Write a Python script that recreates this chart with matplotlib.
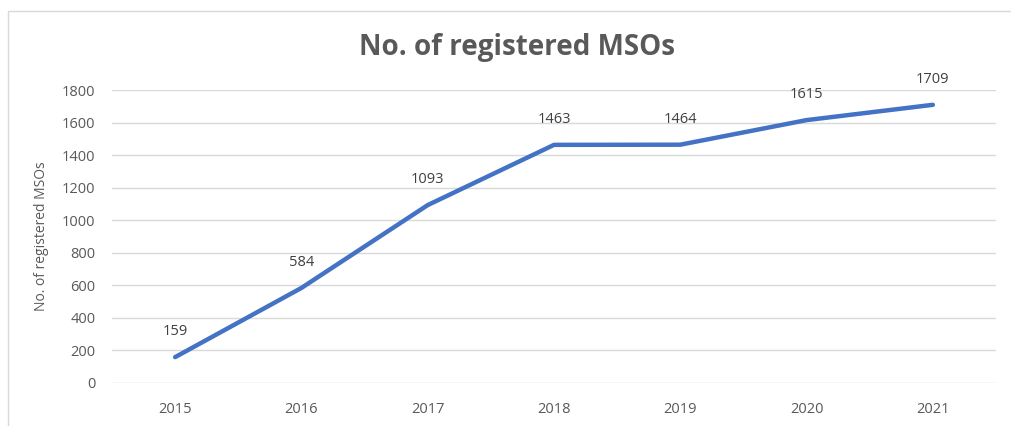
import matplotlib
matplotlib.use("Agg")
import matplotlib.pyplot as plt
from matplotlib.patches import Rectangle

years = ["2015", "2016", "2017", "2018", "2019", "2020", "2021"]
msos = [159, 584, 1093, 1463, 1464, 1615, 1709]
yticks = [0, 200, 400, 600, 800, 1000, 1200, 1400, 1600, 1800]

plt.rcParams['font.family'] = ['Open Sans', 'DejaVu Sans']

fig = plt.figure(figsize=(10.12, 4.26), dpi=100)
fig.patch.set_facecolor("white")
fig.add_artist(Rectangle((8/1012, -0.1), 1.2, 1 - 11/426 + 0.1, transform=fig.transFigure,
                         fill=False, edgecolor="#d9d9d9", linewidth=1))

ax = fig.add_axes([112/1012, 1 - 383/426, (996 - 112)/1012, (383 - 90)/426])
x = list(range(len(years)))
ax.plot(x, msos, color="#4472C4", linewidth=3.2, solid_capstyle="round", zorder=3)
for xi, v in zip(x, msos):
    ax.annotate(str(v), (xi, v), xytext=(0, 13), textcoords="offset points",
                ha="center", va="bottom", fontsize=10.5, color="#404040")

ax.set_xlim(-0.5, len(years) - 0.5)
ax.set_ylim(0, 1800)
ax.set_yticks(yticks)
ax.set_xticks(x)
ax.set_xticklabels(years)
ax.grid(axis="y", color="#d9d9d9", linewidth=1)
ax.set_axisbelow(True)
for s in ax.spines.values():
    s.set_visible(False)
ax.tick_params(axis="both", length=0, labelsize=10.5, colors="#595959", pad=12)
ax.tick_params(axis="x", pad=14)
ax.set_ylabel("No. of registered MSOs", fontsize=10, color="#595959", labelpad=9)
fig.text(517/1012, 1 - 47/426, "No. of registered MSOs", ha="center", va="center",
         fontsize=20, fontweight="bold", color="#595959")

fig.savefig("out.png", dpi=100)
